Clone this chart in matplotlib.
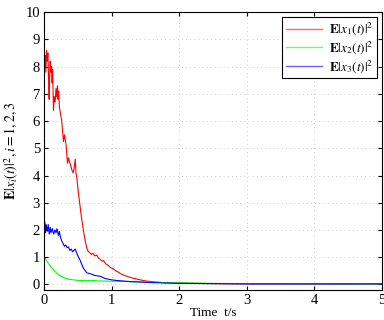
import matplotlib
matplotlib.use("Agg")
import matplotlib.pyplot as plt

plt.rcParams["font.family"] = ["Liberation Serif", "DejaVu Serif"]
plt.rcParams["mathtext.fontset"] = "stix"
plt.rcParams["font.size"] = 9

# values
t1 = [0.000, 0.008, 0.015, 0.025, 0.035, 0.045, 0.055, 0.065, 0.074, 0.080,
      0.089, 0.100, 0.110, 0.118, 0.125, 0.138, 0.150, 0.163, 0.175, 0.185,
      0.197, 0.205, 0.215, 0.226, 0.240, 0.260, 0.285, 0.300, 0.325, 0.345,
      0.360, 0.375, 0.390, 0.410, 0.430, 0.445, 0.460, 0.470, 0.484, 0.500,
      0.520, 0.550, 0.580, 0.600, 0.630, 0.650, 0.680, 0.700, 0.720, 0.750,
      0.780, 0.800, 0.830, 0.860, 0.880, 0.910, 0.950, 0.980, 1.020, 1.060,
      1.100, 1.140, 1.200, 1.260, 1.320, 1.400, 1.500, 1.600, 1.750, 2.000,
      2.500, 3.000, 4.000, 5.000]
y1 = [9.2, 8.0, 8.4, 7.8, 8.6, 8.2, 8.5, 7.6, 6.8, 7.5,
      8.2, 7.8, 8.0, 7.4, 7.9, 6.4, 6.9, 6.7, 7.2, 6.9,
      7.3, 6.8, 7.1, 6.5, 6.3, 6.0, 5.25, 5.5, 5.1, 4.45,
      4.65, 4.5, 4.4, 4.2, 4.1, 4.3, 4.6, 4.1, 3.9, 3.5,
      3.1, 2.5, 2.0, 1.7, 1.35, 1.22, 1.15, 1.1, 1.15, 1.05,
      1.08, 0.98, 0.92, 0.85, 0.88, 0.76, 0.7, 0.62, 0.58, 0.5,
      0.45, 0.38, 0.32, 0.27, 0.23, 0.18, 0.13, 0.1, 0.07, 0.05,
      0.03, 0.02, 0.02, 0.02]

t2 = [0.0, 0.03, 0.06, 0.1, 0.15, 0.2, 0.25, 0.3, 0.35, 0.4,
      0.5, 0.6, 0.7, 0.8, 1.0, 1.2, 1.4, 1.6, 1.8, 2.0,
      2.5, 3.0, 5.0]
y2 = [1.0, 0.9, 0.78, 0.65, 0.5, 0.38, 0.3, 0.24, 0.2, 0.18,
      0.15, 0.14, 0.15, 0.13, 0.12, 0.11, 0.1, 0.08, 0.07, 0.06,
      0.04, 0.03, 0.02]

t3 = [0.0, 0.01, 0.02, 0.03, 0.045, 0.06, 0.075, 0.09, 0.10, 0.12,
      0.14, 0.16, 0.175, 0.19, 0.21, 0.225, 0.24, 0.26, 0.28, 0.30,
      0.32, 0.34, 0.36, 0.38, 0.40, 0.42, 0.44, 0.46, 0.49, 0.53,
      0.58, 0.63, 0.70, 0.75, 0.83, 0.9, 1.0, 1.1, 1.2, 1.3,
      1.5, 1.7, 2.0, 2.5, 3.0, 5.0]
y3 = [2.0, 2.3, 1.9, 2.2, 1.95, 2.2, 1.85, 2.1, 1.9, 2.05,
      1.85, 2.0, 1.9, 2.05, 1.8, 1.95, 1.75, 1.6, 1.5, 1.4,
      1.45, 1.35, 1.38, 1.25, 1.3, 1.2, 1.25, 1.3, 1.1, 0.9,
      0.6, 0.43, 0.38, 0.33, 0.3, 0.22, 0.17, 0.14, 0.12, 0.1,
      0.08, 0.06, 0.04, 0.03, 0.02, 0.02]

fig = plt.figure(figsize=(3.84, 3.2), dpi=100)
ax = fig.add_axes([0.115, 0.094, 0.88, 0.868])

ax.plot(t1, y1, color="#ff0000", lw=0.8, label=r"$\mathbf{E}|x_1(t)|^2$")
ax.plot(t2, y2, color="#00ff00", lw=0.8, label=r"$\mathbf{E}|x_2(t)|^2$")
ax.plot(t3, y3, color="#0000ff", lw=0.8, label=r"$\mathbf{E}|x_3(t)|^2$")

ax.set_xlim(0, 5)
ax.set_ylim(-0.2, 10)
ax.set_xticks(range(0, 6))
ax.set_yticks(range(0, 11))
ax.grid(True, linestyle=(0, (1, 4)), color="#bbbbbb", lw=0.6)
ax.tick_params(direction="in", top=True, right=True, length=3, labelsize=10.5, pad=3)
for s in ax.spines.values():
    s.set_linewidth(0.8)

ax.set_xlabel("Time  t/s", fontsize=9.5, labelpad=0)
ax.set_ylabel(r"$\mathbf{E}|x_i(t)|^2, i=1,2,3$", fontsize=10, labelpad=3)

leg = ax.legend(loc="upper right", fontsize=9.5, fancybox=False, framealpha=1,
                edgecolor="black", borderaxespad=0.4, handlelength=2.8,
                borderpad=0.25, labelspacing=0.15, handletextpad=0.5)
leg.get_frame().set_linewidth(0.8)
for h in leg.get_lines():
    h.set_alpha(0.6)
    h.set_linewidth(1.0)

fig.savefig("out.png", dpi=100)
